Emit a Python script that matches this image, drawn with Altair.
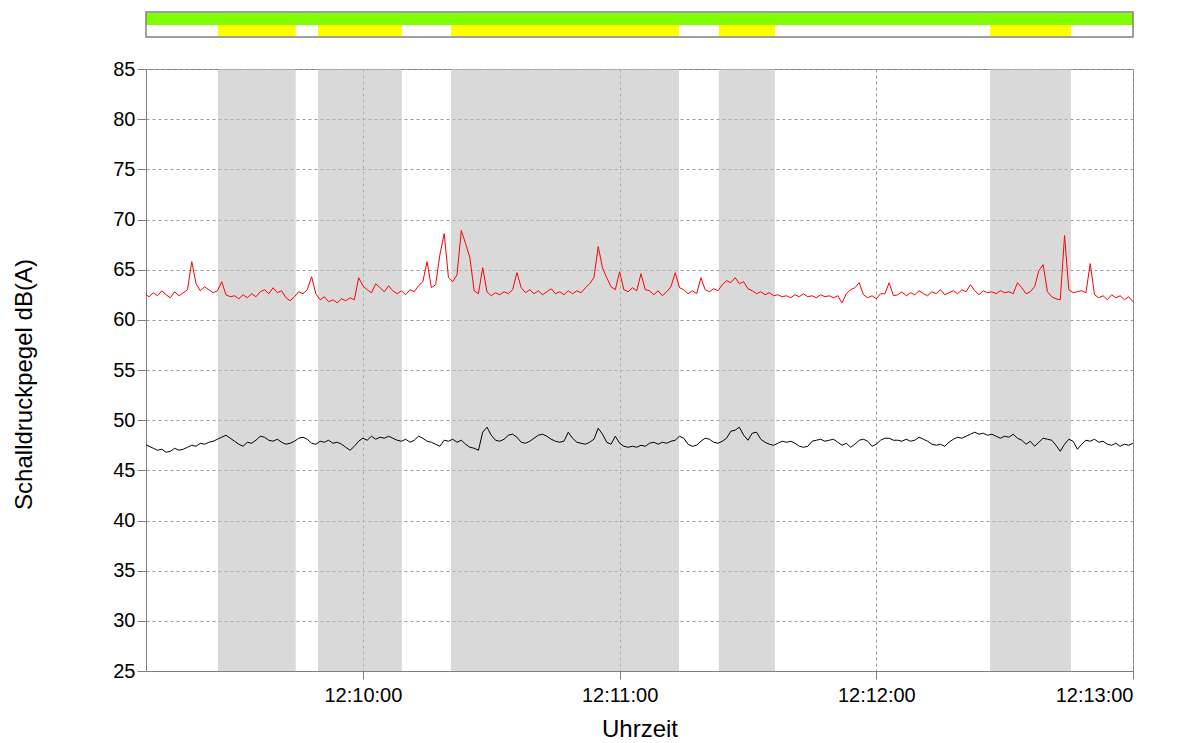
import altair as alt
import pandas as pd

# seconds relative to 12:10:00, one sample per second from -51 to 180
red_values = [
    62.6, 62.3, 62.7, 62.4, 62.9, 62.5, 62.2, 62.8, 62.4, 62.7,
    63.0, 65.8, 63.6, 62.9, 63.3, 63.0, 62.7, 62.9, 63.8, 62.5,
    62.3, 62.4, 62.1, 62.5, 62.2, 62.6, 62.3, 62.8, 63.0, 62.6,
    63.2, 62.7, 62.9, 62.2, 61.9, 62.3, 62.8, 62.6, 63.0, 64.3,
    62.6, 62.0, 62.3, 61.8, 62.0, 61.7, 62.1, 61.9, 62.2, 62.0,
    64.2, 63.4, 63.0, 62.7, 63.6, 63.2, 62.8, 63.4, 62.9, 62.6,
    62.9, 62.5, 63.0, 62.8, 63.4, 63.8, 65.8, 63.2, 63.5, 66.5,
    68.6, 64.2, 63.8, 64.5, 68.9, 67.6, 66.2, 62.9, 62.6, 65.2,
    62.8, 62.4, 62.7, 62.5, 62.8, 62.6, 63.0, 64.7, 63.2, 62.7,
    63.0, 62.6, 62.9, 62.5, 62.8, 63.1, 62.6, 62.8, 62.5, 62.9,
    62.6, 62.9, 62.7, 63.2, 63.6, 64.2, 67.3, 65.2, 64.2, 63.3,
    63.0, 64.8, 63.0, 62.8, 63.2, 62.9, 64.6, 63.0, 62.9, 62.5,
    62.9, 62.4, 62.8, 63.3, 64.7, 63.2, 63.0, 62.6, 62.9, 62.6,
    64.2, 63.0, 62.8, 63.1, 62.9, 63.5, 63.9, 63.7, 64.2, 63.6,
    63.8, 63.1, 62.9, 62.6, 62.8, 62.5, 62.7, 62.4, 62.5, 62.3,
    62.4, 62.2, 62.5, 62.3, 62.6, 62.3, 62.4, 62.2, 62.5, 62.3,
    62.4, 62.2, 62.4, 61.7, 62.6, 63.0, 63.2, 63.7, 62.5, 62.2,
    62.4, 62.1, 62.6, 62.6, 63.7, 62.4, 62.5, 62.8, 62.4, 62.7,
    62.5, 62.9, 62.6, 62.4, 62.8, 62.6, 63.0, 62.5, 62.7, 62.9,
    62.6, 63.0, 62.8, 63.5, 62.9, 62.5, 62.9, 62.7, 62.8, 62.6,
    62.9, 62.7, 62.8, 62.6, 63.7, 63.2, 62.6, 62.8, 63.3, 64.9,
    65.5, 62.8, 62.3, 62.1, 62.0, 68.4, 63.0, 62.7, 62.8, 62.9,
    62.7, 65.6, 62.5, 62.2, 62.4, 62.0, 62.5, 62.2, 62.4, 62.0,
    62.3, 61.8,
]

black_values = [
    47.6, 47.4, 47.2, 47.0, 47.1, 46.8, 46.9, 47.2, 47.0, 47.1,
    47.3, 47.5, 47.4, 47.7, 47.6, 47.8, 47.9, 48.1, 48.3, 48.5,
    48.2, 47.9, 47.6, 47.4, 47.8, 47.7, 48.0, 48.4, 48.3, 48.0,
    47.9, 48.1, 47.8, 47.6, 47.7, 47.9, 48.2, 48.3, 48.1, 47.7,
    47.6, 47.9, 47.8, 48.0, 47.7, 47.8, 47.6, 47.3, 47.0, 47.4,
    47.9, 48.2, 48.0, 48.4, 48.1, 48.3, 48.2, 48.4, 48.2, 48.0,
    47.9, 48.1, 47.8, 48.0, 48.4, 48.2, 47.9, 47.8, 47.6, 47.4,
    48.0, 47.9, 48.1, 47.8, 48.0, 47.6, 47.3, 47.2, 47.0, 48.8,
    49.3, 48.5, 48.0, 47.9, 48.1, 48.5, 48.6, 48.3, 47.8, 47.7,
    47.9, 48.2, 48.5, 48.6, 48.4, 48.1, 47.9, 47.8, 47.9, 48.8,
    48.2, 47.8, 47.7, 47.6, 47.8, 48.1, 49.2, 48.6, 47.8, 47.6,
    48.4, 47.7, 47.4, 47.3, 47.4, 47.3, 47.5, 47.4, 47.7, 47.8,
    47.6, 47.8, 47.7, 47.9, 48.0, 48.4, 48.2, 47.6, 47.4, 47.5,
    47.9, 48.2, 48.1, 47.8, 47.7, 47.9, 48.2, 48.9, 49.0, 49.3,
    48.5, 48.0, 48.7, 48.8, 48.1, 47.8, 47.6, 47.5, 47.7, 47.9,
    47.8, 47.9, 47.7, 47.4, 47.3, 47.4, 47.9, 48.0, 48.1, 47.9,
    48.0, 48.1, 47.8, 47.5, 47.7, 47.3, 47.6, 48.0, 48.1, 47.9,
    47.4, 47.6, 48.0, 48.2, 48.2, 48.0, 48.0, 47.9, 48.1, 47.9,
    48.0, 48.3, 48.1, 47.9, 47.6, 47.5, 47.6, 47.4, 47.8, 48.1,
    48.3, 48.2, 48.4, 48.6, 48.8, 48.6, 48.7, 48.5, 48.6, 48.4,
    48.2, 48.4, 48.3, 48.6, 48.2, 48.0, 47.6, 47.9, 47.4, 47.8,
    48.2, 48.1, 48.0, 47.5, 46.9, 47.6, 48.1, 47.9, 47.1, 47.6,
    48.0, 47.9, 48.1, 47.8, 47.9, 47.6, 47.5, 47.7, 47.4, 47.6,
    47.5, 47.7,
]

# marked intervals (seconds relative to 12:10:00)
interval_starts = [-33.9, -10.5, 20.6, 83.2, 146.6]
interval_ends = [-15.7, 9.1, 73.9, 96.3, 165.5]

x_start = -50.7
x_end = 180.0
tick_minutes = [10, 11, 12, 13]

base = pd.Timestamp("2024-01-01 12:10:00")


def ts(sec_list):
    return [base + pd.to_timedelta(s, unit="s") for s in sec_list]


n = min(len(red_values), len(black_values))
secs = list(range(-51, -51 + n))
lines = pd.DataFrame({
    "t": ts(secs) * 2,
    "v": red_values[:n] + black_values[:n],
    "s": ["red"] * n + ["black"] * n,
})
intervals = pd.DataFrame({"a": ts(interval_starts), "b": ts(interval_ends)})
full = pd.DataFrame({"a": ts([x_start]), "b": ts([x_end])})


def dt(sec):
    t = base + pd.to_timedelta(sec, unit="s")
    return alt.DateTime(year=2024, month=1, date=1, hours=t.hour, minutes=t.minute,
                        seconds=t.second, milliseconds=int(t.microsecond / 1000))


xscale = alt.Scale(domain=[dt(x_start), dt(x_end)])
tick_vals = [alt.DateTime(year=2024, month=1, date=1, hours=12, minutes=m, seconds=0)
             for m in tick_minutes]

xaxis = alt.Axis(values=tick_vals, format="%H:%M:%S", title="Uhrzeit", grid=True,
                 tickSize=8, labelPadding=6, titlePadding=12)

shade = alt.Chart(intervals).mark_rect(color="#bfbfbf", opacity=0.6).encode(
    x=alt.X("a:T", scale=xscale, axis=xaxis),
    x2="b:T",
)

line_chart = alt.Chart(lines).mark_line(strokeWidth=1, clip=True).encode(
    x=alt.X("t:T", scale=xscale),
    y=alt.Y("v:Q", scale=alt.Scale(domain=[25, 85], nice=False),
            axis=alt.Axis(values=list(range(25, 90, 5)), title="Schalldruckpegel dB(A)",
                          tickSize=9, labelPadding=2, titlePadding=76, titleY=315)),
    color=alt.Color("s:N", scale=alt.Scale(domain=["red", "black"], range=["#ff0000", "#000000"]),
                    legend=None),
    detail="s:N",
)

green = alt.Chart(full).mark_rect(color="#80ff00").encode(
    x=alt.X("a:T", scale=xscale), x2="b:T",
    y=alt.value(-56), y2=alt.value(-44),
)
yellow = alt.Chart(intervals).mark_rect(color="#ffff00").encode(
    x=alt.X("a:T", scale=xscale), x2="b:T",
    y=alt.value(-44), y2=alt.value(-33),
)
frame = alt.Chart(full).mark_rect(fill=None, stroke="#808080", strokeWidth=1.5).encode(
    x=alt.X("a:T", scale=xscale), x2="b:T",
    y=alt.value(-57), y2=alt.value(-32),
)

chart = alt.layer(shade, line_chart, green, yellow, frame).properties(
    width=987, height=602,
    padding={"left": 4, "top": 3, "right": 0, "bottom": 0},
).configure_axis(
    labelFont="Liberation Sans", titleFont="Liberation Sans",
    labelFontSize=20, titleFontSize=24, titleFontWeight="normal",
    labelColor="#000000", titleColor="#000000",
    domainColor="#808080", tickColor="#808080",
    gridColor="#9a9a9a", gridDash=[3, 3], gridWidth=1,
).configure_view(stroke="#808080", strokeWidth=1)

chart.save("out.html", embed_options={"renderer": "svg", "actions": False})
